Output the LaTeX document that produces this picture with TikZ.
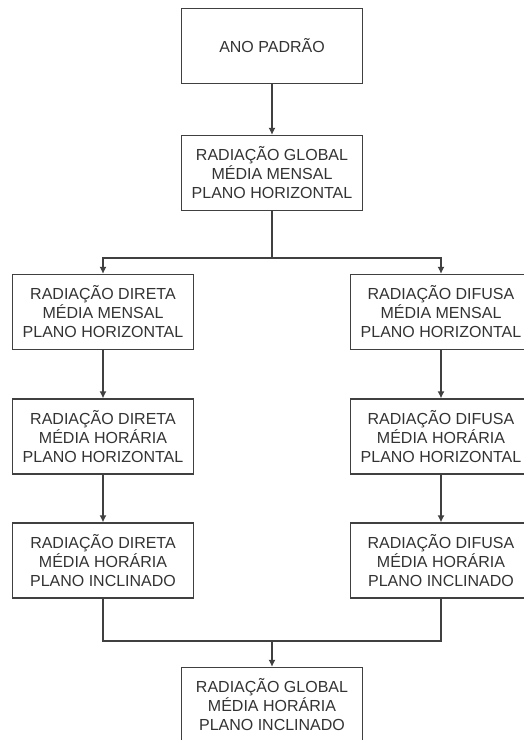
\documentclass[tikz,border=0pt]{standalone}
\usepackage{fontspec}
\setmainfont{Liberation Sans}
\usetikzlibrary{arrows.meta}
\begin{document}
\begin{tikzpicture}[x=1pt,y=-1pt,
    caixa/.style={draw=black!75, line width=1.3pt, fill=white, minimum width=181pt, minimum height=75pt, inner sep=0pt, align=center, text=black!80, font=\fontsize{16}{19}\selectfont},
    linha/.style={draw=black!75, line width=1.3pt},
    seta/.style={linha, -{Latex[length=7pt,width=7pt]}}]

    % 1. Fundo branco da figura 523x740
    \fill [white] (0,0) rectangle (523,740);
    \useasboundingbox (0,0) rectangle (523,740);

    % 2. Caixas centrais
    \node[caixa] (padrao) at (272,46) {ANO PADRÃO};
    \node[caixa] (globalmensal) at (272,173) {RADIAÇÃO GLOBAL\\MÉDIA MENSAL\\PLANO HORIZONTAL};

    % 3. Coluna da radiação direta
    \node[caixa] (diretamensal) at (103,312) {RADIAÇÃO DIRETA\\MÉDIA MENSAL\\PLANO HORIZONTAL};
    \node[caixa] (diretahoraria) at (103,436.5) {RADIAÇÃO DIRETA\\MÉDIA HORÁRIA\\PLANO HORIZONTAL};
    \node[caixa] (diretainclinado) at (103,560.5) {RADIAÇÃO DIRETA\\MÉDIA HORÁRIA\\PLANO INCLINADO};

    % 4. Coluna da radiação difusa
    \node[caixa] (difusamensal) at (441,312) {RADIAÇÃO DIFUSA\\MÉDIA MENSAL\\PLANO HORIZONTAL};
    \node[caixa] (difusahoraria) at (441,436.5) {RADIAÇÃO DIFUSA\\MÉDIA HORÁRIA\\PLANO HORIZONTAL};
    \node[caixa] (difusainclinado) at (441,560.5) {RADIAÇÃO DIFUSA\\MÉDIA HORÁRIA\\PLANO INCLINADO};

    % 5. Caixa final
    \node[caixa] (globalinclinado) at (272,705) {RADIAÇÃO GLOBAL\\MÉDIA HORÁRIA\\PLANO INCLINADO};

    % 6. Ligações
    \coordinate (divisao) at (272,258);
    \coordinate (uniao) at (272,641);

    \draw[seta] (padrao) -- (globalmensal);
    \draw[linha] (globalmensal) -- (divisao);
    \draw[seta] (divisao) -| (diretamensal);
    \draw[seta] (divisao) -| (difusamensal);

    \draw[seta] (diretamensal) -- (diretahoraria);
    \draw[seta] (diretahoraria) -- (diretainclinado);
    \draw[seta] (difusamensal) -- (difusahoraria);
    \draw[seta] (difusahoraria) -- (difusainclinado);

    \draw[linha] (diretainclinado) |- (uniao) -| (difusainclinado);
    \draw[seta] (uniao) -- (globalinclinado);

\end{tikzpicture}
\end{document}
